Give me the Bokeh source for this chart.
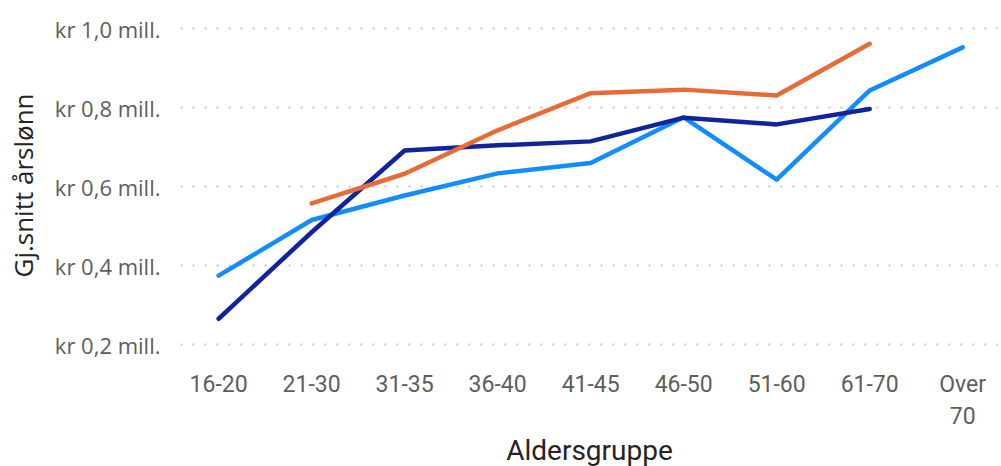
from bokeh.plotting import figure
from bokeh.models import Range1d, FixedTicker, ColumnDataSource
from bokeh.embed import file_html
from bokeh.resources import INLINE

nan = float("nan")

# Categories (age groups)
categories = ["16-20", "21-30", "31-35", "36-40", "41-45", "46-50", "51-60", "61-70", "Over\n70"]

# Average annual salary, millions NOK
serie_lysblaa = [0.375, 0.516, 0.578, 0.634, 0.660, 0.776, 0.618, 0.844, 0.953]
serie_moerkeblaa = [0.266, 0.485, 0.692, 0.705, 0.715, 0.775, 0.758, 0.797, nan]
serie_oransje = [nan, 0.558, 0.633, 0.743, 0.837, 0.846, 0.831, 0.962, nan]

y_ticks = [0.2, 0.4, 0.6, 0.8, 1.0]
y_tick_labels = ["kr 0,2 mill.", "kr 0,4 mill.", "kr 0,6 mill.", "kr 0,8 mill.", "kr 1,0 mill."]

x_idx = list(range(len(categories)))
src = ColumnDataSource(dict(x=x_idx, a=serie_lysblaa, b=serie_moerkeblaa, c=serie_oransje))

p = figure(
    output_backend="svg", toolbar_location=None,
    frame_width=818, frame_height=330,
    min_border_left=180, min_border_right=0, min_border_top=20, min_border_bottom=112,
    x_range=Range1d(-0.41, 8.385), y_range=Range1d(0.1856, 1.021),
)
p.outline_line_color = None
p.background_fill_color = "white"
p.border_fill_color = "white"

colors = {"a": "#118DFF", "b": "#12239E", "c": "#E66C37"}
for key in ["a", "b", "c"]:
    p.line("x", key, source=src, line_color=colors[key], line_width=4.5,
           line_join="round", line_cap="round")

# X axis
xa = p.xaxis[0]
xa.ticker = FixedTicker(ticks=x_idx)
xa.major_label_overrides = {i: lab for i, lab in zip(x_idx, categories)}
xa.axis_line_color = None
xa.major_tick_line_color = None
xa.minor_tick_line_color = None
xa.major_tick_out = 0
xa.major_label_standoff = 20
xa.major_label_text_font = "Roboto"
xa.major_label_text_font_size = "23px"
xa.major_label_text_color = "#605E5C"
xa.axis_label = "Aldersgruppe"
xa.axis_label_text_font = "Roboto"
xa.axis_label_text_font_style = "normal"
xa.axis_label_text_font_size = "28px"
xa.axis_label_text_color = "#252423"
xa.axis_label_standoff = 1

# Y axis
ya = p.yaxis[0]
ya.ticker = FixedTicker(ticks=y_ticks)
ya.major_label_overrides = {t: lab for t, lab in zip(y_ticks, y_tick_labels)}
ya.axis_line_color = None
ya.major_tick_line_color = None
ya.minor_tick_line_color = None
ya.major_tick_out = 0
ya.major_label_standoff = 20
ya.major_label_text_font = "Open Sans"
ya.major_label_text_font_size = "22px"
ya.major_label_text_color = "#605E5C"
ya.axis_label = "Gj.snitt årslønn"
ya.axis_label_text_font = "Open Sans"
ya.axis_label_text_font_style = "normal"
ya.axis_label_text_font_size = "26px"
ya.axis_label_text_color = "#252423"
ya.axis_label_standoff = 11

p.xgrid.grid_line_color = None
p.ygrid.grid_line_color = "#C8C6C4"
p.ygrid.grid_line_width = 2
p.ygrid.grid_line_dash = "2 10"

open("out.html", "w").write(file_html(p, INLINE))
